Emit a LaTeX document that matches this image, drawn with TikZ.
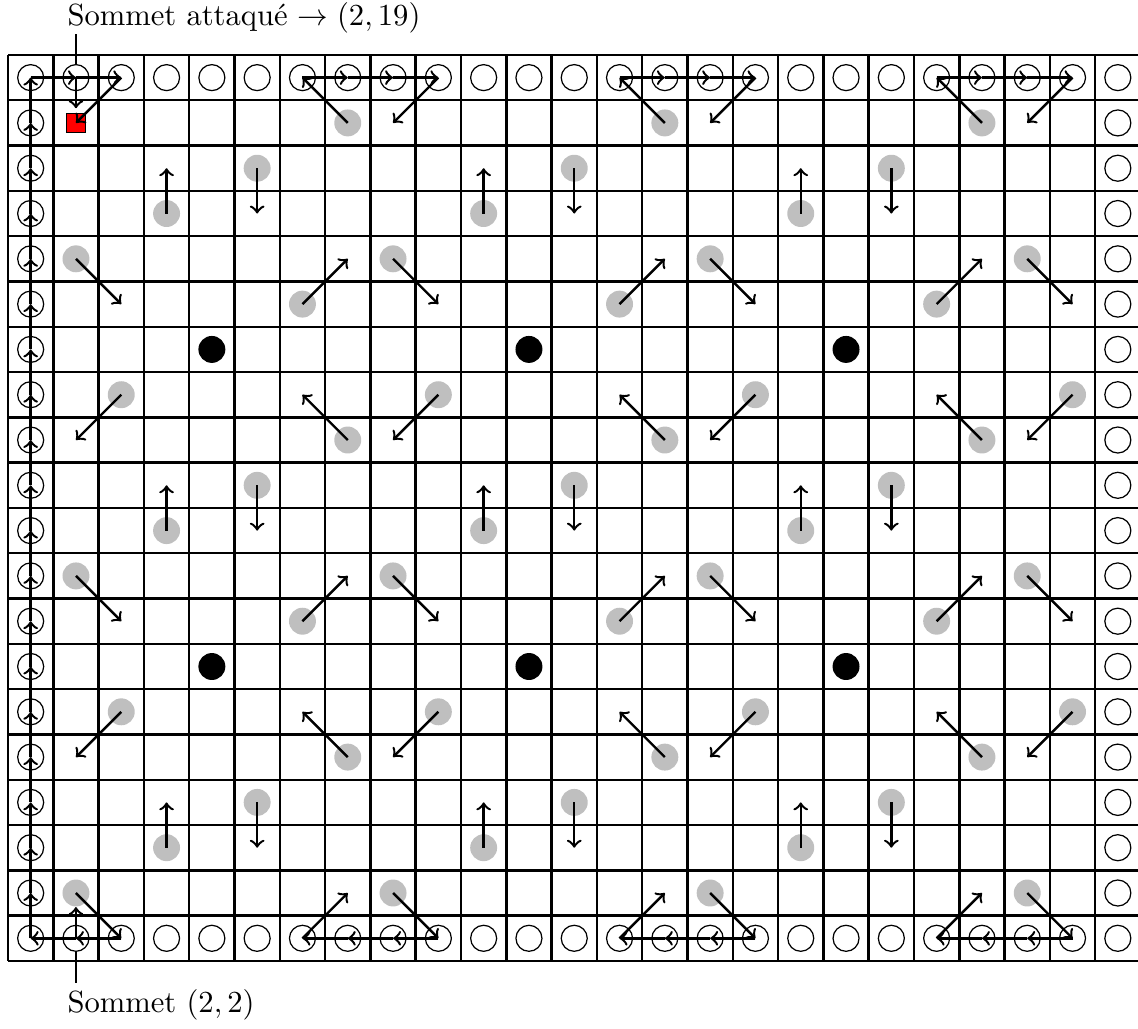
\documentclass[tikz,border=0pt]{standalone}
\definecolor{robcol}{HTML}{BFBFBF}
\definecolor{atkcol}{HTML}{FF0000}

\begin{document}
\begin{tikzpicture}[
    x=0.52cm, y=0.52cm,
    vtx/.style={circle, draw, line width=0.4pt, minimum size=8.5pt, inner sep=0pt},
    rob/.style={circle, fill=robcol, minimum size=8.8pt, inner sep=0pt},
    cop/.style={circle, fill=black, minimum size=8.8pt, inner sep=0pt},
    atk/.style={rectangle, draw, fill=atkcol, line width=0.4pt, minimum size=6.2pt, inner sep=0pt},
    arr/.style={->, line width=0.8pt},
    gridline/.style={line width=0.8pt},
    lbl/.style={inner sep=0pt},
    lblline/.style={line width=0.6pt},
]
\useasboundingbox (0.323,-1.0) rectangle (25.445,21.714);

% === Board ===
\draw[gridline, shift={(0.5,0.5)}, step={(1,1)}] (0,0) grid (25,20);
\foreach \i in {1,...,25}
    \foreach \j in {1,...,20}
        \coordinate (p-\i-\j) at (\i,\j);

% === Border vertices ===
\foreach \i in {1,...,25} {
    \node[vtx] (v-\i-1) at (\i,1) {};
    \node[vtx] (v-\i-20) at (\i,20) {};
}
\foreach \j in {2,...,19} {
    \node[vtx] (v-1-\j) at (1,\j) {};
    \node[vtx] (v-25-\j) at (25,\j) {};
}

% === Cops ===
\foreach \i in {5,12,19}
    \foreach \j in {7,14}
        \node[cop] (cop-\i-\j) at (\i,\j) {};

% === Attacked vertex ===
\node[atk] (attacked) at (2,19) {};

% === Robbers, diagonal moves ===
\foreach \k in {0,...,3} {
    \pgfmathtruncatemacro{\a}{2+7*\k}
    \pgfmathtruncatemacro{\b}{3+7*\k}
    \foreach \j [evaluate=\j as \jm using int(\j-1)] in {16,9,2} {
        \node[rob] (g-\a-\j) at (\a,\j) {};
        \draw[arr] (g-\a-\j.center) -- (p-\b-\jm);
    }
    \foreach \j [evaluate=\j as \jm using int(\j-1)] in {13,6} {
        \node[rob] (g-\b-\j) at (\b,\j) {};
        \draw[arr] (g-\b-\j.center) -- (p-\a-\jm);
    }
}
\foreach \k in {0,1,2} {
    \pgfmathtruncatemacro{\a}{7+7*\k}
    \pgfmathtruncatemacro{\b}{8+7*\k}
    \foreach \j [evaluate=\j as \jp using int(\j+1)] in {15,8} {
        \node[rob] (g-\a-\j) at (\a,\j) {};
        \draw[arr] (g-\a-\j.center) -- (p-\b-\jp);
    }
    \foreach \j [evaluate=\j as \jp using int(\j+1)] in {19,12,5} {
        \node[rob] (g-\b-\j) at (\b,\j) {};
        \draw[arr] (g-\b-\j.center) -- (p-\a-\jp);
    }
    \draw[arr] (v-\a-1.center) -- (p-\b-2);
}

% === Robbers, vertical moves ===
\foreach \k in {0,1,2} {
    \pgfmathtruncatemacro{\c}{4+7*\k}
    \pgfmathtruncatemacro{\d}{6+7*\k}
    \foreach \j [evaluate=\j as \jp using int(\j+1)] in {17,10,3} {
        \node[rob] (g-\c-\j) at (\c,\j) {};
        \draw[arr] (g-\c-\j.center) -- (p-\c-\jp);
    }
    \foreach \j [evaluate=\j as \jm using int(\j-1)] in {18,11,4} {
        \node[rob] (g-\d-\j) at (\d,\j) {};
        \draw[arr] (g-\d-\j.center) -- (p-\d-\jm);
    }
}

% === Moves along the border ===
\foreach \j [evaluate=\j as \jp using int(\j+1)] in {1,...,19}
    \draw[arr] (v-1-\j.center) -- (v-1-\jp.center);
\draw[arr] (v-1-20.center) -- (v-2-20.center);
\draw[arr] (v-2-20.center) -- (v-3-20.center);
\draw[arr] (v-3-1.center) -- (v-2-1.center);
\draw[arr] (v-2-1.center) -- (v-1-1.center);
\foreach \k in {0,1,2}
    \foreach \s in {0,1,2} {
        \pgfmathtruncatemacro{\i}{7+7*\k+\s}
        \pgfmathtruncatemacro{\n}{8+7*\k+\s}
        \draw[arr] (v-\i-20.center) -- (v-\n-20.center);
        \draw[arr] (v-\n-1.center) -- (v-\i-1.center);
    }
\foreach \k in {1,2,3} {
    \pgfmathtruncatemacro{\a}{2+7*\k}
    \pgfmathtruncatemacro{\b}{3+7*\k}
    \draw[arr] (v-\b-20.center) -- (p-\a-19);
}

% toward the attacked vertex
\draw[arr] (v-3-20.center) -- (attacked.center);
\draw[arr, shorten >=1.5pt] (v-2-20.center) -- (attacked);
\draw[arr] (v-2-1.center) -- (g-2-2);

% === Labels ===
\node[lbl, anchor=south west] (lbl-atk) at (1.8,20.96)
    {Sommet attaqué $\rightarrow (2,19)$};
\draw[lblline] (lbl-atk.south -| v-2-20) -- (v-2-20);
\node[lbl, inner ysep=2pt, anchor=north west] (lbl-start) at (1.8,0.014)
    {Sommet $(2,2)$};
\draw[lblline] (v-2-1) -- (lbl-start.north -| v-2-1);

\end{tikzpicture}
\end{document}
